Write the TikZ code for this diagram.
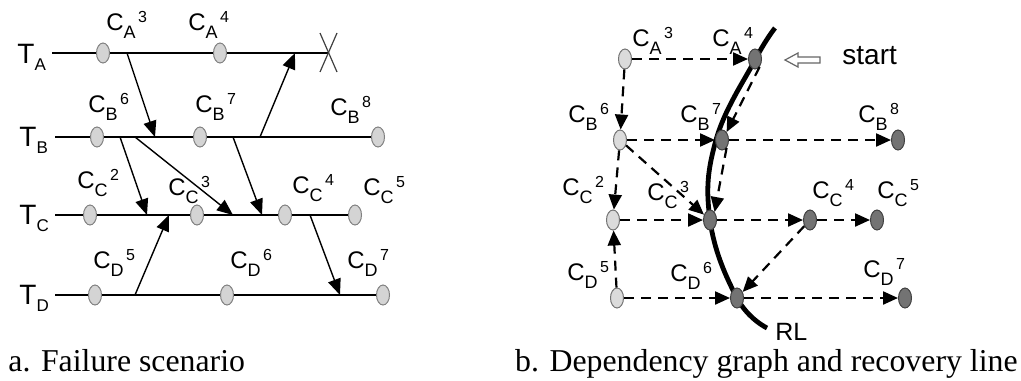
\documentclass[tikz,border=0pt]{standalone}
\usepackage{fontspec}
\setmainfont{Liberation Serif}
\newfontfamily\arial{Liberation Sans}
\usetikzlibrary{arrows.meta,shapes.geometric}
% checkpoint and process names, index and number set after each other
\newcommand{\chk}[2]{C\raisebox{-0.65ex}{\fontsize{9}{9}\selectfont #1}\kern1.2pt\raisebox{0.56ex}{\fontsize{8}{8}\selectfont #2}}
\newcommand{\proc}[1]{T\raisebox{-0.48ex}{\fontsize{8.5}{9}\selectfont #1}}
\tikzset{
  ckpt/.style={ellipse,draw=black!50,fill=black!17,line width=0.5pt,
    minimum width=6.5pt,minimum height=10pt,inner sep=0pt},
  cklight/.style={ckpt,draw=black!55,fill=black!14},
  ckdark/.style={ckpt,draw=black!75,fill=black!55},
  lbl/.style={anchor=base west,inner sep=0pt,font=\arial\fontsize{12}{13}\selectfont},
  plbl/.style={anchor=base west,inner sep=0pt,font=\arial\fontsize{14}{16}\selectfont},
  tline/.style={line width=0.7pt},
  msg/.style={line width=0.7pt,-{Triangle[length=8pt,width=6.5pt]}},
  dep/.style={line width=1.1pt,dash pattern=on 5pt off 3.5pt,
    -{Triangle[length=7.5pt,width=6.5pt]}},
  rl/.style={line width=2.4pt},
  captxt/.style={inner sep=0pt,font=\fontsize{15.9}{18}\selectfont}
}
\begin{document}
\begin{tikzpicture}[x=0.5pt,y=-0.5pt]
\useasboundingbox (0,0) rectangle (1021,380);
%%%%%%%%%%%%%%%%%%%%%%%%%%%%%%%%%%%%%%%%% a. failure scenario
% coordinates
\coordinate (TAs) at ( 52, 53);%
\coordinate (TAe) at (329, 53);%
\coordinate (TBs) at ( 55,137);%
\coordinate (TBe) at (378,137);%
\coordinate (TCs) at ( 55,215);%
\coordinate (TCe) at (355,215);%
\coordinate (TDs) at ( 55,295);%
\coordinate (TDe) at (383,295);%
% message ends
\coordinate (m1s) at (127, 53);  \coordinate (m1e) at (155,137);%
\coordinate (m2s) at (260,137);  \coordinate (m2e) at (295, 53);%
\coordinate (m3s) at (120,137);  \coordinate (m3e) at (147,215);%
\coordinate (m4s) at (135,137);  \coordinate (m4e) at (233,215);%
\coordinate (m5s) at (233,137);  \coordinate (m5e) at (262,215);%
\coordinate (m6s) at (135,295);  \coordinate (m6e) at (169,215);%
\coordinate (m7s) at (310,215);  \coordinate (m7e) at (340,295);%
% timelines
\draw[tline] (TAs) -- (TAe);
\draw[tline] (TBs) -- (TBe);
\draw[tline] (TCs) -- (TCe);
\draw[tline] (TDs) -- (TDe);
% failure
\draw[black!75,line width=0.6pt] (320,33) -- (337,72);
\draw[black!75,line width=0.6pt] (337,33) -- (320,72);
% messages
\draw[msg] (m1s) -- (m1e);
\draw[msg] (m2s) -- (m2e);
\draw[msg] (m3s) -- (m3e);
\draw[msg] (m4s) -- (m4e);
\draw[msg] (m5s) -- (m5e);
\draw[msg] (m6s) -- (m6e);
\draw[msg] (m7s) -- (m7e);
% checkpoints
\node[ckpt] (A3) at (103, 53) {};
\node[ckpt] (A4) at (220, 53) {};
\node[ckpt] (B6) at ( 97,137) {};
\node[ckpt] (B7) at (200,137) {};
\node[ckpt] (B8) at (378,137) {};
\node[ckpt] (C2) at ( 90,215) {};
\node[ckpt] (C3) at (197,215) {};
\node[ckpt] (C4) at (285,215) {};
\node[ckpt] (C5) at (355,215) {};
\node[ckpt] (D5) at ( 95,295) {};
\node[ckpt] (D6) at (227,295) {};
\node[ckpt] (D7) at (383,295) {};
% labels
\node[plbl] (pA) at ( 17, 63) {\proc{A}};
\node[plbl] (pB) at ( 19,146) {\proc{B}};
\node[plbl] (pC) at ( 19,224) {\proc{C}};
\node[plbl] (pD) at ( 19,304) {\proc{D}};
\node[lbl] (lA3) at (106, 30) {\chk{A}{3}};
\node[lbl] (lA4) at (188, 30) {\chk{A}{4}};
\node[lbl] (lB6) at ( 88,112) {\chk{B}{6}};
\node[lbl] (lB7) at (195,112) {\chk{B}{7}};
\node[lbl] (lB8) at (330,115) {\chk{B}{8}};
\node[lbl] (lC2) at ( 77,188) {\chk{C}{2}};
\node[lbl] (lC3) at (168,195) {\chk{C}{3}};
\node[lbl] (lC4) at (292,193) {\chk{C}{4}};
\node[lbl] (lC5) at (363,195) {\chk{C}{5}};
\node[lbl] (lD5) at ( 93,268) {\chk{D}{5}};
\node[lbl] (lD6) at (230,268) {\chk{D}{6}};
\node[lbl] (lD7) at (347,268) {\chk{D}{7}};
%%%%%%%%%%%%%%%%%%%%%%%%%%%%%%%%%%%%%%%%% b. dependency graph
% recovery line
\draw[rl] plot[smooth,tension=0.7] coordinates
  {(775,28) (755,60) (716,140) (710,220) (737,298) (767,328)};
% start marker
\draw[black!60,fill=white,line width=0.6pt] (785,60) -- (798,53) -- (798,57)
  -- (820,57) -- (820,63) -- (798,63) -- (798,67) -- cycle;
% checkpoints
\node[cklight] (dA3) at (625, 59) {};
\node[ckdark]  (dA4) at (755, 59) {};
\node[cklight] (dB6) at (620,140) {};
\node[ckdark]  (dB7) at (722,140) {};
\node[ckdark]  (dB8) at (898,140) {};
\node[cklight] (dC2) at (613,220) {};
\node[ckdark]  (dC3) at (710,220) {};
\node[ckdark]  (dC4) at (810,220) {};
\node[ckdark]  (dC5) at (877,220) {};
\node[cklight] (dD5) at (617,298) {};
\node[ckdark]  (dD6) at (737,298) {};
\node[ckdark]  (dD7) at (905,298) {};
% dependencies
\draw[dep] (dA3) -- (dA4);
\draw[dep] (dA3) -- (dB6);
\draw[dep] (dA4.-60) -- (dB7.60);
\draw[dep] (dB6) -- (dB7);
\draw[dep] (dB7) -- (dB8);
\draw[dep] (dB6) -- (dC2);
\draw[dep] (dB6) -- (dC3);
\draw[dep] (dB7.-60) -- (dC3.60);
\draw[dep] (dC2) -- (dC3);
\draw[dep] (dC3) -- (dC4);
\draw[dep] (dC4) -- (dC5);
\draw[dep] (dD5) -- (dC2);
\draw[dep] (dD5) -- (dD6);
\draw[dep] (dC4) -- (dD6);
\draw[dep] (dD6) -- (dD7);
% labels
\node[lbl] (rA3) at (632, 46) {\chk{A}{3}};
\node[lbl] (rA4) at (712, 46) {\chk{A}{4}};
\node[lbl] (rB6) at (568,122) {\chk{B}{6}};
\node[lbl] (rB7) at (680,122) {\chk{B}{7}};
\node[lbl] (rB8) at (858,122) {\chk{B}{8}};
\node[lbl] (rC2) at (562,195) {\chk{C}{2}};
\node[lbl] (rC3) at (647,200) {\chk{C}{3}};
\node[lbl] (rC4) at (812,198) {\chk{C}{4}};
\node[lbl] (rC5) at (877,198) {\chk{C}{5}};
\node[lbl] (rD5) at (567,280) {\chk{D}{5}};
\node[lbl] (rD6) at (670,281) {\chk{D}{6}};
\node[lbl] (rD7) at (863,277) {\chk{D}{7}};
\node[lbl,font=\arial\fontsize{12.5}{14}\selectfont] (rRL) at (775,340) {RL};
\node[plbl] (start) at (842,64) {start};
%%%%%%%%%%%%%%%%%%%%%%%%%%%%%%%%%%%%%%%%% captions
\node[captxt,anchor=base west] (capa) at (8,371) {a. Failure scenario};
\node[captxt,anchor=base east] (capb) at (1018,371) {b. Dependency graph and recovery line};
\end{tikzpicture}
\end{document}
